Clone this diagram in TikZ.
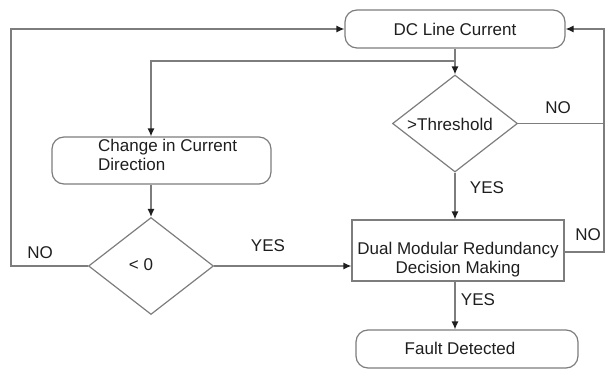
\documentclass[tikz,border=0pt]{standalone}
\usepackage{fontspec}
\setmainfont{Liberation Sans}
\usetikzlibrary{arrows.meta,shapes.geometric}
\definecolor{ln}{RGB}{125,125,125}
\definecolor{tx}{RGB}{30,30,30}
\begin{document}
\begin{tikzpicture}[x=1pt,y=-1pt,
  font=\fontsize{17}{19}\selectfont,
  every node/.style={text=tx},
  rbox/.style={draw=ln, line width=1.2pt, rounded corners=12pt, inner sep=0pt},
  sbox/.style={draw=ln, line width=1.2pt, inner sep=0pt},
  dia/.style={draw=ln, line width=1.2pt, diamond, inner sep=0pt, minimum width=125pt, minimum height=97pt},
  txt/.style={inner sep=0pt, align=center},
  lbl/.style={inner sep=0pt},
  conn/.style={draw=ln, line width=1.2pt},
  arr/.style={conn, -{Latex[length=8pt,width=7pt,color=tx]}}
]
\useasboundingbox (0,0) rectangle (606,372);
% boxes
\node[rbox, minimum width=220pt, minimum height=38pt] (dc) at (455,29) {};
\node[txt] (dct) at (455,29) {DC Line Current};
\node[dia] (thr) at (455,123.5) {};
\node[txt] (thrt) at (450,124) {>Threshold};
\node[rbox, minimum width=219pt, minimum height=47pt] (chg) at (161.5,160.5) {};
\node[txt, anchor=north west, align=left] (chgt) at (98,139) {Change in Current\\Direction};
\node[dia] (lz) at (151,266) {};
\node[txt] (lzt) at (141,265) {< 0};
\node[sbox, minimum width=212pt, minimum height=61pt] (dmr) at (458,250.5) {};
\node[txt] (dmrt) at (458,259.5) {Dual Modular Redundancy\\Decision Making};
\node[rbox, minimum width=222pt, minimum height=38pt] (fd) at (467,349) {};
\node[txt] (fdt) at (460,348) {Fault Detected};
% helper coordinates
\coordinate (br) at (455,61);
\coordinate (cx) at (151,0);
\coordinate (lft) at (11,0);
\coordinate (rgt) at (604,0);
\coordinate (dno) at (0,252);
% connectors
\draw[arr] (dc.south) -- (thr.north);
\draw[arr] (br) -| (cx |- chg.north);
\draw[arr] (cx |- chg.south) -- (lz.north);
\draw[arr] (lz.east) -- (lz.east -| dmr.west);
\draw[arr] (lz.west) -- (lz.west -| lft) |- (dc.west);
\draw[arr] (thr.east) -- (thr.east -| rgt) |- (dc.east);
\draw[conn] (dmr.east |- dno) -- (rgt |- dno) -- (rgt |- thr.east);
\draw[arr] (thr.south) -- (thr.south |- dmr.north);
\draw[arr] (thr.south |- dmr.south) -- (thr.south |- fd.north);
% labels
\node[lbl] (l1) at (558,108) {NO};
\node[lbl] (l2) at (487,188) {YES};
\node[lbl] (l3) at (588,235) {NO};
\node[lbl] (l4) at (478,300) {YES};
\node[lbl] (l5) at (40,253) {NO};
\node[lbl] (l6) at (268,246) {YES};
\end{tikzpicture}
\end{document}
